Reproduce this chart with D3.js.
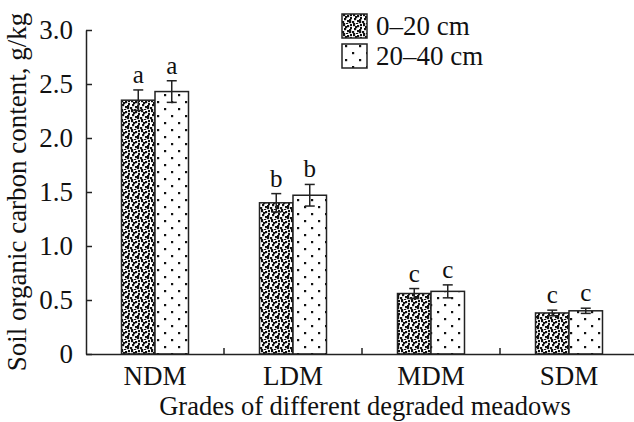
<!DOCTYPE html>
<html>
<head>
<meta charset="utf-8">
<script src="https://cdn.jsdelivr.net/npm/d3@7/dist/d3.min.js"></script>
<style>
html,body{margin:0;padding:0;background:#fff;}
svg{display:block;}
text{font-family:"Liberation Serif","Times New Roman",serif;fill:#111;}
</style>
</head>
<body>
<svg id="chart" width="634" height="422"></svg>
<script>
const categories = ["NDM", "LDM", "MDM", "SDM"];
const seriesNames = ["0\u201320 cm", "20\u201340 cm"];
const values0_20 = [2.35, 1.40, 0.56, 0.38];
const values20_40 = [2.43, 1.47, 0.58, 0.40];
const err0_20 = [0.095, 0.085, 0.046, 0.026];
const err20_40 = [0.10, 0.10, 0.06, 0.024];
const letters0_20 = ["a", "b", "c", "c"];
const letters20_40 = ["a", "b", "c", "c"];
const yTicks = [0, 0.5, 1.0, 1.5, 2.0, 2.5, 3.0];

const svg = d3.select("#chart");
const mLeft = 86, mRight = 638, mTop = 30, mBottom = 354;

// patterns
const defs = svg.append("defs");
const p1 = defs.append("pattern").attr("id", "dense").attr("patternUnits", "userSpaceOnUse")
  .attr("width", 10).attr("height", 10);
p1.append("rect").attr("width", 10).attr("height", 10).attr("fill", "#fff");
[[1,0],[5,1],[8,3],[2,4],[5,6],[0,7],[4,9],[7,7],[8,0],[3,2],[7,5],[1,9]].forEach(([x,y]) => {
  p1.append("rect").attr("x", x).attr("y", y).attr("width", 2.2).attr("height", 2.2).attr("fill", "#111");
});
const p2 = defs.append("pattern").attr("id", "sparse").attr("patternUnits", "userSpaceOnUse")
  .attr("width", 14).attr("height", 14);
p2.append("rect").attr("width", 14).attr("height", 14).attr("fill", "#fff");
[[3,3],[10,10]].forEach(([x,y]) => {
  p2.append("rect").attr("x", x).attr("y", y).attr("width", 2.2).attr("height", 2.2).attr("fill", "#111");
});
const fills = ["url(#dense)", "url(#sparse)"];

const x0 = d3.scaleBand().domain(categories).range([mLeft, mRight]).padding(0);
const x1 = d3.scaleBand().domain(seriesNames).range([0, x0.bandwidth()]).paddingInner(0).paddingOuter(1.06);
const y = d3.scaleLinear().domain([0, 3]).range([mBottom, mTop]);

const data = [];
categories.forEach((c, i) => {
  data.push({cat: c, s: seriesNames[0], v: values0_20[i], e: err0_20[i], l: letters0_20[i], k: 0});
  data.push({cat: c, s: seriesNames[1], v: values20_40[i], e: err20_40[i], l: letters20_40[i], k: 1});
});

// bars
svg.append("g").selectAll("rect").data(data).join("rect")
  .attr("x", d => x0(d.cat) + x1(d.s))
  .attr("y", d => y(d.v))
  .attr("width", x1.bandwidth())
  .attr("height", d => y(0) - y(d.v))
  .attr("fill", d => fills[d.k])
  .attr("stroke", "#222").attr("stroke-width", 1.5);

// error bars
const eg = svg.append("g").attr("stroke", "#222").attr("stroke-width", 1.5);
data.forEach(d => {
  const cx = x0(d.cat) + x1(d.s) + x1.bandwidth() / 2;
  eg.append("line").attr("x1", cx).attr("x2", cx).attr("y1", y(d.v + d.e)).attr("y2", y(d.v - d.e));
  eg.append("line").attr("x1", cx - 5).attr("x2", cx + 5).attr("y1", y(d.v + d.e)).attr("y2", y(d.v + d.e));
  eg.append("line").attr("x1", cx - 5).attr("x2", cx + 5).attr("y1", y(d.v - d.e)).attr("y2", y(d.v - d.e));
});

// letters
svg.append("g").selectAll("text").data(data).join("text")
  .attr("x", d => x0(d.cat) + x1(d.s) + x1.bandwidth() / 2)
  .attr("y", d => y(d.v + d.e) - 7)
  .attr("text-anchor", "middle")
  .attr("font-size", 25)
  .text(d => d.l);

// y axis
const yAxis = d3.axisLeft(y).tickValues(yTicks).tickSizeInner(-6).tickSizeOuter(0).tickPadding(13)
  .tickFormat(d => d === 0 ? "0" : d3.format(".1f")(d));
const ya = svg.append("g").attr("transform", `translate(${mLeft},0)`).call(yAxis);
ya.select(".domain").attr("stroke", "#222").attr("stroke-width", 1.5);
ya.selectAll(".tick line").attr("stroke", "#222").attr("stroke-width", 1.5);
ya.selectAll(".tick text").attr("font-size", 27).attr("font-family", "Liberation Serif").attr("fill", "#111");

// x axis
const xAxis = d3.axisBottom(x0).tickSize(0).tickPadding(12);
const xa = svg.append("g").attr("transform", `translate(0,${mBottom})`).call(xAxis);
xa.select(".domain").attr("stroke", "#222").attr("stroke-width", 1.5);
xa.selectAll(".tick text").attr("font-size", 27).attr("font-family", "Liberation Serif").attr("fill", "#111").attr("dy", "0.71em");
// separators between groups
xa.append("g").selectAll("line").data(categories.slice(1)).join("line")
  .attr("x1", d => x0(d)).attr("x2", d => x0(d)).attr("y1", 0).attr("y2", -6)
  .attr("stroke", "#222").attr("stroke-width", 1.5);

// axis titles
svg.append("text").attr("x", 365).attr("y", 415).attr("text-anchor", "middle").attr("font-size", 26.5)
  .text("Grades of different degraded meadows");
svg.append("text").attr("transform", "translate(26,192) rotate(-90)").attr("text-anchor", "middle").attr("font-size", 27)
  .text("Soil organic carbon content, g/kg");

// legend
const lg = svg.append("g").attr("transform", "translate(342,14)");
seriesNames.forEach((s, i) => {
  lg.append("rect").attr("x", 0).attr("y", i * 30).attr("width", 25).attr("height", 24)
    .attr("fill", fills[i]).attr("stroke", "#222").attr("stroke-width", 1.5);
  lg.append("text").attr("x", 34).attr("y", i * 30 + 21).attr("font-size", 27).text(s);
});
</script>
</body>
</html>
